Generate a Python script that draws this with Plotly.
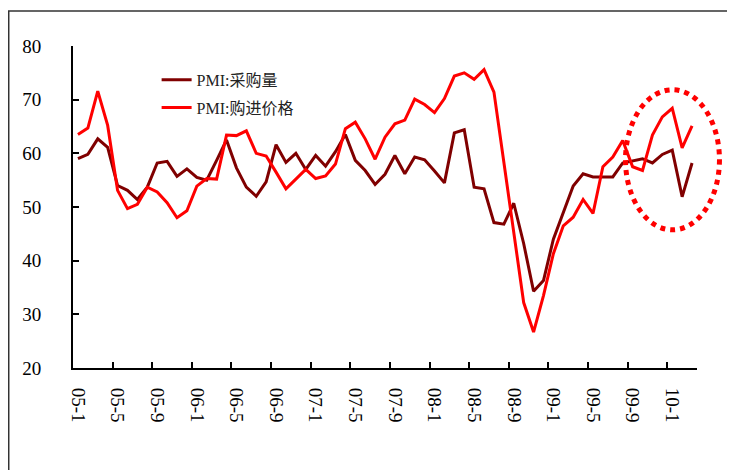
import plotly.graph_objects as go

# ---- data ----
months = list(range(63))  # 2005-01 .. 2010-03
tick_labels = ["05-1", "05-5", "05-9", "06-1", "06-5", "06-9", "07-1", "07-5",
               "07-9", "08-1", "08-5", "08-9", "09-1", "09-5", "09-9", "10-1"]

pmi_purchase = [59.0, 59.8, 62.7, 61.1, 54.0, 53.1, 51.4, 53.7, 58.2, 58.5,
                55.7, 57.1, 55.5, 55.0, 58.7, 62.5, 57.3, 53.7, 52.0, 54.7,
                61.6, 58.3, 60.0, 57.0, 59.6, 57.6, 60.3, 63.5, 58.7, 56.8,
                54.2, 56.1, 59.6, 56.2, 59.3, 58.8, 56.7, 54.5, 63.8, 64.4,
                53.7, 53.4, 47.1, 46.8, 50.7, 43.2, 34.3, 36.3, 44.0, 49.1,
                53.9, 56.2, 55.6, 55.6, 55.6, 58.2, 58.6, 59.0, 58.2, 59.8,
                60.6, 51.9, 58.2]

pmi_price = [63.5, 64.7, 71.6, 65.2, 53.1, 49.7, 50.5, 53.7, 52.8, 50.8,
             48.0, 49.3, 53.9, 55.3, 55.2, 63.4, 63.3, 64.2, 60.0, 59.5,
             56.5, 53.4, 55.2, 57.0, 55.3, 55.8, 58.0, 64.6, 65.8, 62.7,
             58.9, 63.0, 65.5, 66.2, 70.1, 69.1, 67.6, 70.2, 74.4, 75.0,
             73.8, 75.6, 71.4, 58.0, 45.0, 32.2, 26.7, 33.5, 41.3, 46.5,
             48.1, 51.4, 48.8, 57.5, 59.3, 62.4, 57.5, 56.8, 63.4, 66.8,
             68.4, 61.0, 65.1]

series_names = ["PMI:采购量", "PMI:购进价格"]
series_colors = ["#800000", "#FF0000"]

label_positions = [months[i] for i in range(0, len(months), 4)]
boundary_ticks = [p + 3.5 for p in label_positions[:-1]]

FONT = "Liberation Serif, Noto Sans CJK SC, serif"

fig = go.Figure()
for name, vals, col in zip(series_names, [pmi_purchase, pmi_price], series_colors):
    fig.add_trace(go.Scatter(x=months, y=vals, mode="lines", name=name,
                             line=dict(color=col, width=3), legendgroup=name))

fig.update_layout(
    width=727, height=462,
    margin=dict(l=65, r=38, t=38, b=102),
    paper_bgcolor="white", plot_bgcolor="white",
    font=dict(family=FONT, color="black"),
    showlegend=True,
    legend=dict(x=0.134, y=0.948, xanchor="left", yanchor="top",
                bgcolor="rgba(0,0,0,0)", font=dict(size=16, color="#222"),
                tracegroupgap=4),
    xaxis=dict(range=[-0.5, 62.5], showgrid=False, zeroline=False,
               showline=True, linecolor="black", linewidth=2,
               tickmode="array", tickvals=label_positions, ticktext=tick_labels,
               ticks="", tickangle=90, tickfont=dict(size=19),
               ticklabelstandoff=14,
               minor=dict(tickmode="array", tickvals=boundary_ticks,
                          ticks="inside", ticklen=6, tickwidth=1.5,
                          tickcolor="black", showgrid=False)),
    yaxis=dict(range=[20, 80], showgrid=False, zeroline=False,
               showline=True, linecolor="black", linewidth=2,
               tickmode="linear", tick0=20, dtick=10,
               ticks="inside", ticklen=6, tickwidth=1.5, tickcolor="black",
               tickfont=dict(size=19), ticklabelstandoff=26),
    shapes=[
        # outer chart border (left and top edges visible)
        dict(type="rect", xref="paper", yref="paper",
             x0=-0.1030, x1=1.10, y0=-0.36, y1=1.1087,
             line=dict(color="#333333", width=1.5), fillcolor="rgba(0,0,0,0)"),
        # dotted highlight ellipse
        dict(type="circle", xref="paper", yref="paper",
             x0=0.8854, x1=1.036, y0=0.429, y1=0.864,
             line=dict(color="#FF0000", width=5, dash="dot"),
             fillcolor="rgba(0,0,0,0)"),
    ],
)

fig.write_html("out.html")
